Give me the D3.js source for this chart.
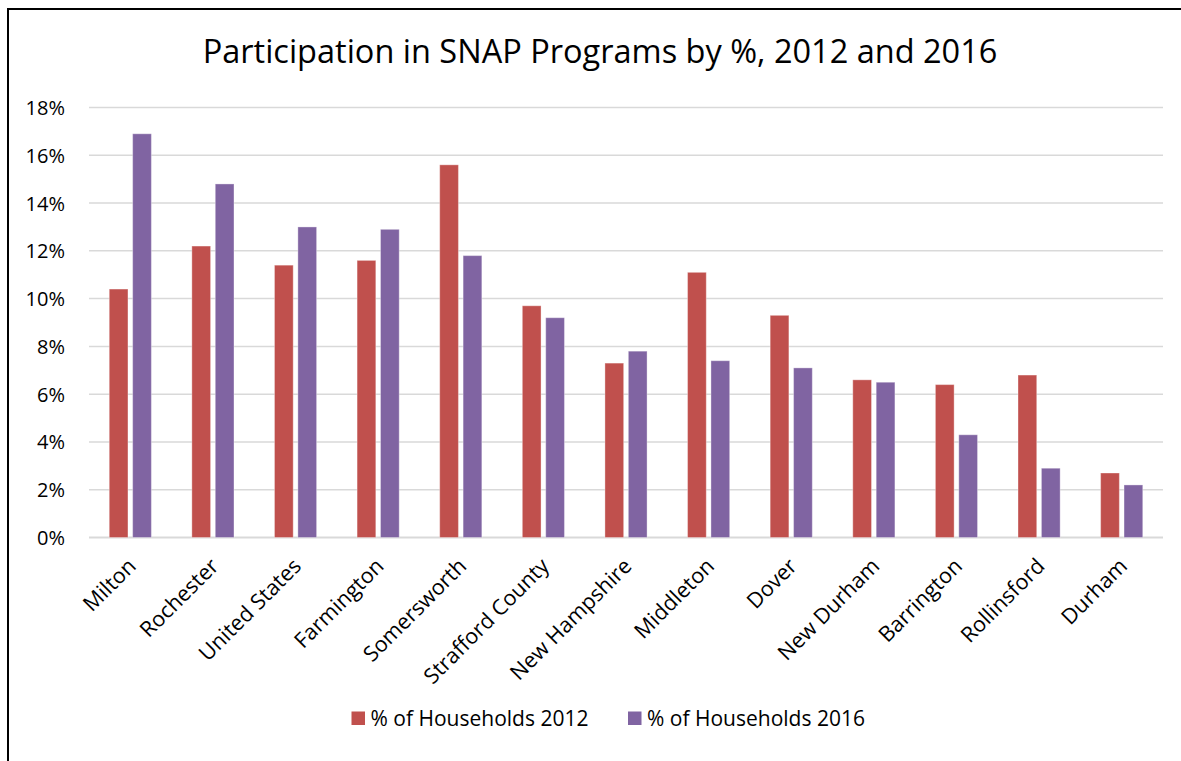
<!DOCTYPE html>
<html>
<head>
<meta charset="utf-8">
<script src="https://cdn.jsdelivr.net/npm/d3@7/dist/d3.min.js"></script>
<style>
  html, body { margin: 0; padding: 0; background: #fff; overflow: hidden; }
  svg { display: block; }
  text { font-family: "Open Sans", "Liberation Sans", sans-serif; fill: #000; }
</style>
</head>
<body>
<svg id="chart" width="1181" height="761"></svg>
<script>
// Communities, in the order shown on the axis
const categories = ["Milton", "Rochester", "United States", "Farmington", "Somersworth",
  "Strafford County", "New Hampshire", "Middleton", "Dover", "New Durham",
  "Barrington", "Rollinsford", "Durham"];

// Share of households receiving SNAP benefits (%)
const households2012 = [10.4, 12.2, 11.4, 11.6, 15.6, 9.7, 7.3, 11.1, 9.3, 6.6, 6.4, 6.8, 2.7];
const households2016 = [16.9, 14.8, 13.0, 12.9, 11.8, 9.2, 7.8, 7.4, 7.1, 6.5, 4.3, 2.9, 2.2];

const seriesNames = ["% of Households 2012", "% of Households 2016"];
const seriesColors = ["#C0504D", "#8064A2"];
const yTicks = [0, 2, 4, 6, 8, 10, 12, 14, 16, 18];

const titleText = "Participation in SNAP Programs by %, 2012 and 2016";

const svg = d3.select("#chart");

// chart frame: top and left edges (the rest runs off the page)
svg.append("path")
  .attr("d", "M8,762 L8,9 L1182,9")
  .attr("fill", "none").attr("stroke", "#000").attr("stroke-width", 2);

const plot = { left: 89, right: 1163, top: 107.5, bottom: 537.5 };

const y = d3.scaleLinear().domain([0, 18]).range([plot.bottom, plot.top]);

const x = d3.scaleBand()
  .domain(categories)
  .range([plot.left, plot.right])
  .paddingInner(0.49)
  .paddingOuter(0.245);

const xs = d3.scaleBand()
  .domain(seriesNames)
  .range([0, x.bandwidth()])
  .paddingInner(0.2);

// title
svg.append("text")
  .attr("x", 600).attr("y", 63)
  .attr("text-anchor", "middle")
  .style("font-size", "32.5px")
  .text(titleText);

// gridlines
svg.append("g")
  .selectAll("line")
  .data(yTicks)
  .join("line")
  .attr("x1", plot.left).attr("x2", plot.right)
  .attr("y1", d => y(d)).attr("y2", d => y(d))
  .attr("stroke", "#D9D9D9")
  .attr("stroke-width", d => d === 0 ? 2 : 1.5);

// y axis labels
const yAxis = d3.axisLeft(y)
  .tickValues(yTicks)
  .tickFormat(d => d + "%")
  .tickSize(0)
  .tickPadding(0);

svg.append("g")
  .attr("transform", `translate(65,0)`)
  .call(yAxis)
  .call(g => g.select(".domain").remove())
  .call(g => g.selectAll("text")
    .style("font-size", "20px")
    .style("font-family", "'Open Sans', sans-serif")
    .attr("fill", "#000")
    .attr("dy", "0.35em"));

// bars
const rows = categories.map((c, i) => ({ cat: c, values: [households2012[i], households2016[i]] }));

const groups = svg.append("g")
  .selectAll("g")
  .data(rows)
  .join("g")
  .attr("transform", d => `translate(${x(d.cat)},0)`);

groups.selectAll("rect")
  .data(d => d.values.map((v, k) => ({ name: seriesNames[k], value: v, k })))
  .join("rect")
  .attr("x", d => xs(d.name))
  .attr("width", xs.bandwidth())
  .attr("y", d => y(d.value))
  .attr("height", d => y(0) - y(d.value))
  .attr("fill", d => seriesColors[d.k])
  .attr("stroke", "rgba(255,255,255,0.35)")
  .attr("stroke-width", 1);

// category labels, rotated
svg.append("g")
  .selectAll("text")
  .data(categories)
  .join("text")
  .attr("transform", d => `translate(${x(d) + x.bandwidth() / 2 + 7},${plot.bottom + 30}) rotate(-45)`)
  .attr("text-anchor", "end")
  .style("font-size", "21.5px")
  .text(d => d);

// legend
const legend = svg.append("g");
const legendX = [351.5, 628];
seriesNames.forEach((name, k) => {
  legend.append("rect")
    .attr("x", legendX[k]).attr("y", 711.5)
    .attr("width", 13.5).attr("height", 13.5)
    .attr("fill", seriesColors[k]);
  legend.append("text")
    .attr("x", legendX[k] + 19).attr("y", 726)
    .style("font-size", "21px")
    .text(name);
});
</script>
</body>
</html>
